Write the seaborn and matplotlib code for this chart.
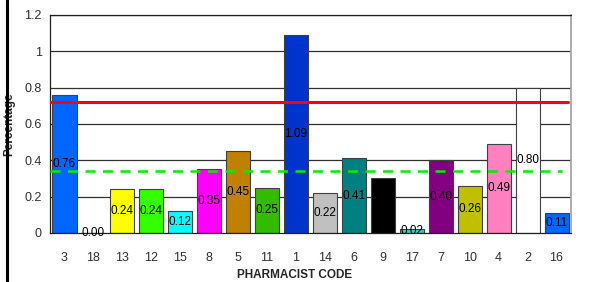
import matplotlib
matplotlib.use("Agg")
import matplotlib.pyplot as plt
from matplotlib.lines import Line2D
import seaborn as sns
import pandas as pd

codes = ["3", "18", "13", "12", "15", "8", "5", "11", "1", "14", "6", "9", "17", "7", "10", "4", "2", "16"]
values = [0.76, 0.00, 0.24, 0.24, 0.12, 0.35, 0.45, 0.25, 1.09, 0.22, 0.41, 0.30, 0.02, 0.40, 0.26, 0.49, 0.80, 0.11]
colors = ["#0066ff", "#808080", "#ffff00", "#33ff00", "#00ffff", "#ff00ff", "#c08000", "#33bb00", "#0033cc",
          "#c0c0c0", "#008080", "#000000", "#33cccc", "#800080", "#c0c000", "#ff80c0", "#ffffff", "#0066ff"]
upper_line = 0.72
mean_line = 0.34
y_ticks = [0, 0.2, 0.4, 0.6, 0.8, 1.0, 1.2]
y_tick_labels = ["0", "0.2", "0.4", "0.6", "0.8", "1", "1.2"]

sns.set_style("white")
plt.rcParams["font.family"] = ["Liberation Sans Narrow", "Liberation Sans", "DejaVu Sans"]

df = pd.DataFrame({"code": codes, "value": values})

fig = plt.figure(figsize=(5.92, 2.82), dpi=100)
ax = fig.add_axes([0.0845, 0.174, 0.880, 0.773])

ax.set_ylim(0, 1.2)
ax.set_yticks(y_ticks)
ax.set_yticklabels(y_tick_labels)
for t in y_ticks[1:]:
    ax.axhline(t, color="#303030", lw=0.9, zorder=0)

sns.barplot(data=df, x="code", y="value", hue="code", order=codes, hue_order=codes,
            palette=colors, legend=False, width=0.83, edgecolor="#404040", linewidth=0.8,
            saturation=1, ax=ax, zorder=2)

for cont, v in zip(ax.containers, values):
    ax.bar_label(cont, labels=[f"{v:.2f}"], label_type="center", fontsize=8.5, color="#000000")

ax.axhline(upper_line, xmin=0, xmax=0.994, color="#ff0000", lw=2.2, zorder=3)
ax.axhline(mean_line, xmin=0, xmax=0.983, color="#00ee00", lw=1.8, ls=(0, (4, 3)), zorder=3)

ax.set_xlim(-0.5, len(codes) - 0.5)
for s in ["left", "bottom", "top"]:
    ax.spines[s].set_color("#202020")
    ax.spines[s].set_linewidth(0.9)
ax.spines["right"].set_color("#a0a0a0")
ax.spines["right"].set_linewidth(1.2)
ax.tick_params(axis="both", labelsize=9, length=0, colors="#303030", pad=6)
ax.tick_params(axis="x", pad=14)

ax.set_xlabel("PHARMACIST CODE", fontsize=8.5, fontweight="bold")
ax.xaxis.set_label_coords(0.47, -0.165)
ax.set_ylabel("Percentage", fontsize=8.5, fontweight="bold")
ax.yaxis.set_label_coords(-0.066, 0.5)

fig.add_artist(Line2D([7 / 592, 7 / 592], [0, 1], color="black", lw=2.2, transform=fig.transFigure))

fig.savefig("out.png", dpi=100)
